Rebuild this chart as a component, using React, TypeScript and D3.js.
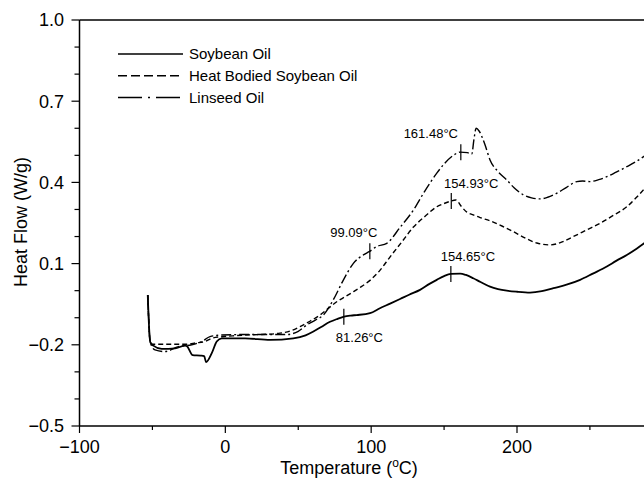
import React from "react";
import * as d3 from "d3";

// ---------- data ----------
const soyT = [-53.2, -51.5, -49.4, -43.6, -34.5, -27.5, -26.3, -22.4, -17.0, -14.5, -13.2, -9.3, -5.9, -2.5, 5, 13.5, 30.7, 46.6, 55, 60.4, 66, 71.8, 77, 81.4, 86, 90.1, 99.2, 106, 113, 119.8, 126, 133.5, 140, 145, 150, 154.6, 161, 165, 170, 175, 181.5, 187, 193, 200, 209, 217, 225, 234, 243.3, 252, 261.6, 268, 275.3, 282, 288];
const soyV = [-0.016, -0.19, -0.203, -0.215, -0.213, -0.203, -0.205, -0.238, -0.24, -0.242, -0.264, -0.231, -0.188, -0.176, -0.176, -0.176, -0.182, -0.176, -0.165, -0.151, -0.133, -0.115, -0.104, -0.096, -0.092, -0.09, -0.083, -0.065, -0.048, -0.031, -0.015, 0.003, 0.025, 0.04, 0.054, 0.062, 0.063, 0.058, 0.046, 0.032, 0.015, 0.006, 0.0, -0.004, -0.007, -0.002, 0.009, 0.022, 0.04, 0.063, 0.089, 0.11, 0.132, 0.155, 0.178];

const hbT = [-53.2, -51.5, -49.5, -45, -35, -27, -20, -14, -9.3, -2.5, 5, 13.5, 25, 37.5, 45, 51.2, 58, 64.9, 70, 76.4, 82, 87.8, 93, 99.2, 106, 113, 121, 129, 137, 145, 150, 154.1, 158, 162, 165.6, 170, 174.7, 181.5, 190, 197.5, 205, 213.6, 222.7, 231, 238.7, 248, 257, 266, 275.3, 282, 288];
const hbV = [-0.016, -0.19, -0.198, -0.198, -0.198, -0.198, -0.193, -0.188, -0.176, -0.17, -0.167, -0.164, -0.162, -0.157, -0.148, -0.133, -0.113, -0.09, -0.068, -0.041, -0.023, -0.004, 0.014, 0.038, 0.075, 0.125, 0.18, 0.235, 0.275, 0.31, 0.322, 0.33, 0.335, 0.31, 0.29, 0.28, 0.27, 0.258, 0.238, 0.218, 0.196, 0.176, 0.169, 0.18, 0.2, 0.225, 0.249, 0.278, 0.31, 0.345, 0.38];

const linT = [-53.2, -51.5, -48.2, -41.4, -32.2, -23, -16.2, -10.5, -2.5, 13.5, 30, 42, 50, 55.8, 62, 67.2, 74, 81, 87.8, 94.7, 98.6, 103.8, 110.7, 120, 129, 137, 145, 150, 156.4, 161, 166, 169, 170.5, 172, 174, 178, 181.5, 187, 193, 198, 204.4, 210, 215.8, 221, 227.3, 234, 241, 245, 250, 256, 261.6, 268, 275.3, 282, 288];
const linV = [-0.016, -0.19, -0.219, -0.225, -0.207, -0.2, -0.188, -0.17, -0.164, -0.162, -0.162, -0.162, -0.15, -0.127, -0.108, -0.09, -0.034, 0.04, 0.101, 0.132, 0.144, 0.163, 0.175, 0.235, 0.298, 0.37, 0.434, 0.468, 0.5, 0.512, 0.51, 0.505, 0.56, 0.6, 0.59, 0.54, 0.483, 0.44, 0.409, 0.38, 0.354, 0.343, 0.339, 0.345, 0.36, 0.382, 0.403, 0.405, 0.403, 0.41, 0.421, 0.438, 0.458, 0.478, 0.5];

const seriesNames = ["Soybean Oil", "Heat Bodied Soybean Oil", "Linseed Oil"];

const xMajorTicks = [-100, 0, 100, 200];
const xMinorTicks = [-50, 50, 150, 250];
const xTickLabels = ["\u2212100", "0", "100", "200"];
const yMajorTicks = [1.0, 0.7, 0.4, 0.1, -0.2, -0.5];
const yMinorTicks = [0.9, 0.8, 0.6, 0.5, 0.3, 0.2, 0.0, -0.1, -0.3, -0.4];
const yTickLabels = ["1.0", "0.7", "0.4", "0.1", "\u22120.2", "\u22120.5"];

const annoTemps = [81.26, 99.09, 161.48, 154.93, 154.65];
const annoSeries = [0, 2, 2, 1, 0];
const annoLabels = ["81.26\u00b0C", "99.09\u00b0C", "161.48\u00b0C", "154.93\u00b0C", "154.65\u00b0C"];

// ---------- layout / style ----------
const W = 644, H = 481;
const FONT = "'Liberation Sans', Arial, Helvetica, sans-serif";
const annoOffsets = [
  { dx: -8, dy: 25, anchor: "start" },
  { dx: -16, dy: -14, anchor: "middle" },
  { dx: -30, dy: -14, anchor: "middle" },
  { dx: 20, dy: -13, anchor: "middle" },
  { dx: 17, dy: -13, anchor: "middle" },
];
const curveDash = [null, "5,3", "10,3,2,3"];
const legendDash = [null, "9,4", "24,6,2,6"];

export default function App() {
  const x = d3.scaleLinear().domain([-100, 200]).range([79.5, 517]);
  const y = d3.scaleLinear().domain([-0.5, 1.0]).range([426, 20]);
  const allT = [soyT, hbT, linT];
  const allV = [soyV, hbV, linV];
  const line = d3
    .line<[number, number]>()
    .x((d) => x(d[0]))
    .y((d) => y(d[1]))
    .curve(d3.curveMonotoneX);

  const interp = (si: number, t: number) => {
    const T = allT[si], V = allV[si];
    for (let i = 0; i < T.length - 1; i++) {
      if (t >= T[i] && t <= T[i + 1]) {
        const f = (t - T[i]) / (T[i + 1] - T[i]);
        return V[i] + f * (V[i + 1] - V[i]);
      }
    }
    return V[V.length - 1];
  };

  const x0 = x(-100);
  const xEnd = x(300);
  const yBot = y(-0.5);
  const yTop = y(1.0);

  return (
    <svg width={W} height={H} style={{ position: "absolute", left: 0, top: 0, background: "#fff" }} fontFamily={FONT}>
      {/* frame */}
      <line x1={x0} x2={x0} y1={yTop} y2={yBot} stroke="#000" strokeWidth={1.5} />
      <line x1={x0} x2={xEnd} y1={yTop} y2={yTop} stroke="#000" strokeWidth={1.5} />
      <line x1={x0} x2={xEnd} y1={yBot} y2={yBot} stroke="#000" strokeWidth={1.5} />

      {/* y ticks */}
      {yMajorTicks.map((v, i) => (
        <g key={"ym" + i}>
          <line x1={x0 - 8} x2={x0} y1={y(v)} y2={y(v)} stroke="#000" strokeWidth={1.2} />
          <text x={64} y={y(v)} dy="0.36em" textAnchor="end" fontSize={18}>
            {yTickLabels[i]}
          </text>
        </g>
      ))}
      {yMinorTicks.map((v, i) => (
        <line key={"yn" + i} x1={x0 - 5} x2={x0} y1={y(v)} y2={y(v)} stroke="#000" strokeWidth={1.2} />
      ))}

      {/* x ticks */}
      {xMajorTicks.map((v, i) => (
        <g key={"xm" + i}>
          <line x1={x(v)} x2={x(v)} y1={yBot} y2={yBot + 7} stroke="#000" strokeWidth={1.2} />
          <text x={x(v)} y={453} textAnchor="middle" fontSize={18}>
            {xTickLabels[i]}
          </text>
        </g>
      ))}
      {xMinorTicks.map((v, i) => (
        <line key={"xn" + i} x1={x(v)} x2={x(v)} y1={yBot} y2={yBot + 4} stroke="#000" strokeWidth={1.2} />
      ))}

      {/* axis titles */}
      <text x={349} y={474} textAnchor="middle" fontSize={18}>
        Temperature (
        <tspan fontSize={12} dy={-7}>o</tspan>
        <tspan dy={7}>C)</tspan>
      </text>
      <text transform={`translate(27,222) rotate(-90)`} textAnchor="middle" fontSize={18}>
        Heat Flow (W/g)
      </text>

      {/* curves */}
      {allT.map((T, si) => (
        <path
          key={"s" + si}
          d={line(T.map((t, i) => [t, allV[si][i]] as [number, number])) || ""}
          fill="none"
          stroke="#000"
          strokeWidth={si === 0 ? 1.8 : 1.4}
          strokeDasharray={curveDash[si] || undefined}
        />
      ))}

      {/* annotations */}
      {annoTemps.map((t, i) => {
        const cx = x(t);
        const cy = y(interp(annoSeries[i], t));
        const o = annoOffsets[i];
        return (
          <g key={"a" + i}>
            <line x1={cx} x2={cx} y1={cy - 8} y2={cy + 8} stroke="#000" strokeWidth={1.2} />
            <text x={cx + o.dx} y={cy + o.dy} textAnchor={o.anchor} fontSize={13}>
              {annoLabels[i]}
            </text>
          </g>
        );
      })}

      {/* legend */}
      {seriesNames.map((n, i) => {
        const ly = 54 + i * 21.7;
        return (
          <g key={"l" + i}>
            <line x1={118} x2={183} y1={ly} y2={ly} stroke="#000" strokeWidth={1.5} strokeDasharray={legendDash[i] || undefined} />
            <text x={189} y={ly} dy="0.36em" fontSize={15}>
              {n}
            </text>
          </g>
        );
      })}
    </svg>
  );
}
